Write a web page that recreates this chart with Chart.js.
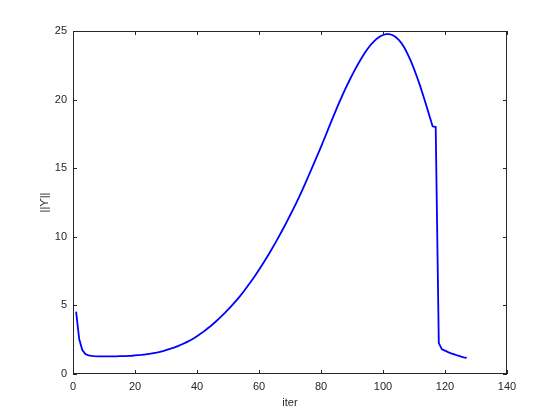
<!DOCTYPE html>
<html>
<head>
<meta charset="utf-8">
<script src="https://cdn.jsdelivr.net/npm/chart.js@4.4.0/dist/chart.umd.min.js"></script>
<style>
  html, body { margin: 0; padding: 0; background: #fff; }
</style>
</head>
<body>
<canvas id="normChart" width="560" height="420"></canvas>
<script>
// ||Υ||, one value per iteration (iter = 1 .. 127)
const normValues = [
    4.55, 2.55, 1.75, 1.45, 1.36, 1.32, 1.30, 1.29, 1.29, 1.29,
    1.29, 1.29, 1.29, 1.29, 1.30, 1.30, 1.31, 1.32, 1.33, 1.35,
    1.37, 1.39, 1.42, 1.45, 1.48, 1.52, 1.56, 1.61, 1.67, 1.74,
    1.81, 1.88, 1.96, 2.05, 2.15, 2.25, 2.36, 2.48, 2.61, 2.76,
    2.91, 3.07, 3.24, 3.42, 3.61, 3.81, 4.02, 4.24, 4.46, 4.69,
    4.93, 5.18, 5.44, 5.71, 6.00, 6.30, 6.61, 6.93, 7.26, 7.60,
    7.95, 8.31, 8.68, 9.06, 9.45, 9.85, 10.26, 10.68, 11.11, 11.55,
    12.00, 12.46, 12.93, 13.42, 13.93, 14.45, 14.97, 15.50, 16.02, 16.56,
    17.11, 17.67, 18.23, 18.78, 19.32, 19.85, 20.36, 20.85, 21.32, 21.77,
    22.20, 22.61, 23.00, 23.36, 23.69, 23.98, 24.23, 24.44, 24.60, 24.71,
    24.77, 24.77, 24.71, 24.58, 24.38, 24.10, 23.74, 23.30, 22.80, 22.24,
    21.63, 20.98, 20.28, 19.55, 18.80, 18.05, 18.00, 2.25, 1.80, 1.70,
    1.60, 1.51, 1.43, 1.35, 1.28, 1.22, 1.17
];
const xTicks = [0, 20, 40, 60, 80, 100, 120, 140];
const yTicks = [0, 5, 10, 15, 20, 25];

const points = normValues.map((v, i) => ({ x: i + 1, y: v }));

const textColor = '#262626';
const fontFamily = '"Liberation Sans", Arial, "DejaVu Sans", sans-serif';

// MATLAB style box with inward ticks on all four sides
const boxPlugin = {
    id: 'box',
    afterDraw(chart) {
        const { ctx, chartArea: a, scales } = chart;
        const len = 4;
        ctx.save();
        ctx.strokeStyle = textColor;
        ctx.lineWidth = 1;
        ctx.strokeRect(Math.round(a.left) + 0.5, Math.round(a.top) + 0.5,
            Math.round(a.right - a.left) - 1, Math.round(a.bottom - a.top) - 1);
        ctx.beginPath();
        xTicks.forEach(v => {
            const px = Math.round(scales.x.getPixelForValue(v)) + 0.5;
            ctx.moveTo(px, a.bottom); ctx.lineTo(px, a.bottom - len);
            ctx.moveTo(px, a.top); ctx.lineTo(px, a.top + len);
        });
        yTicks.forEach(v => {
            const py = Math.round(scales.y.getPixelForValue(v)) + 0.5;
            ctx.moveTo(a.left, py); ctx.lineTo(a.left + len, py);
            ctx.moveTo(a.right, py); ctx.lineTo(a.right - len, py);
        });
        ctx.stroke();
        ctx.restore();
    }
};

const ctx = document.getElementById('normChart').getContext('2d');
const chart = new Chart(ctx, {
    type: 'line',
    data: {
        datasets: [{
            data: points,
            borderColor: '#0000ff',
            borderWidth: 1.8,
            pointRadius: 0,
            tension: 0,
            fill: false
        }]
    },
    options: {
        responsive: false,
        animation: false,
        devicePixelRatio: 1,
        layout: { padding: { top: 31, right: 53, left: 0, bottom: 0 } },
        plugins: {
            legend: { display: false },
            tooltip: { enabled: false }
        },
        scales: {
            x: {
                type: 'linear',
                min: 0,
                max: 140,
                afterBuildTicks: s => { s.ticks = xTicks.map(v => ({ value: v })); },
                afterFit: s => { s.height = 46; },
                grid: { display: false, drawTicks: false },
                border: { display: false },
                ticks: { color: textColor, padding: 6, font: { family: fontFamily, size: 11 } },
                title: {
                    display: true,
                    text: 'iter',
                    color: textColor,
                    padding: { bottom: 10, top: 0 },
                    font: { family: fontFamily, size: 11 }
                }
            },
            y: {
                type: 'linear',
                min: 0,
                max: 25,
                afterBuildTicks: s => { s.ticks = yTicks.map(v => ({ value: v })); },
                afterFit: s => { s.width = 73; },
                grid: { display: false, drawTicks: false },
                border: { display: false },
                ticks: { color: textColor, padding: 6, font: { family: fontFamily, size: 11 } },
                title: {
                    display: true,
                    text: '||ϒ||',
                    color: textColor,
                    padding: { top: 38, bottom: 0 },
                    font: { family: fontFamily, size: 11 }
                }
            }
        }
    },
    plugins: [boxPlugin]
});
</script>
</body>
</html>
